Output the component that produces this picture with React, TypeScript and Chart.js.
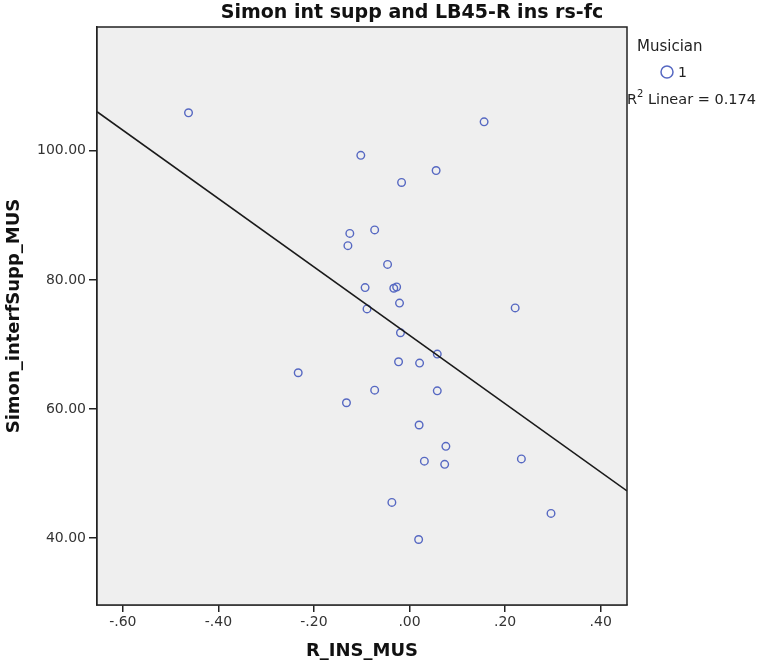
import React, { useEffect, useRef } from "react";
import { Chart, registerables } from "chart.js";

Chart.register(...registerables);

// Data
const xValues = [
  -0.4625, 0.156, -0.102, 0.0556, -0.0167, -0.125, -0.073, -0.129, -0.046, -0.093,
  -0.033, -0.027, -0.021, -0.089, 0.221, -0.019, 0.058, -0.023, 0.021, -0.233,
  -0.073, 0.058, -0.132, 0.02, 0.076, 0.031, 0.0735, 0.234, -0.037, 0.296, 0.019,
];
const yValues = [
  105.9, 104.5, 99.3, 96.95, 95.1, 87.2, 87.75, 85.3, 82.4, 78.8,
  78.7, 78.9, 76.4, 75.5, 75.65, 71.8, 68.5, 67.3, 67.1, 65.6,
  62.9, 62.8, 60.95, 57.5, 54.2, 51.9, 51.4, 52.25, 45.5, 43.8, 39.75,
];
const xTicks = [-0.6, -0.4, -0.2, 0.0, 0.2, 0.4];
const yTicks = [40, 60, 80, 100];
const fitIntercept = 71.4;
const fitSlope = -53.0;
const xRange = [-0.654, 0.455];
const yRange = [29.6, 119.2];

const titleText = "Simon int supp and LB45-R ins rs-fc";
const xTitle = "R_INS_MUS";
const yTitle = "Simon_interfSupp_MUS";
const legendTitle = "Musician";
const legendItem = "1";
const r2Text = "0.174";

const POINT_COLOR = "#5668c2";
const FONT = "'DejaVu Sans', sans-serif";

export default function App() {
  const ref = useRef<HTMLCanvasElement | null>(null);

  useEffect(() => {
    const canvas = ref.current;
    if (!canvas) return;

    const points = xValues.map((x, i) => ({ x, y: yValues[i] }));
    const line = [xRange[0], xRange[1]].map((x) => ({ x, y: fitIntercept + fitSlope * x }));

    const decor = {
      id: "decor",
      beforeDatasetsDraw(chart: any) {
        const { ctx, chartArea: a } = chart;
        ctx.save();
        ctx.fillStyle = "#efefef";
        ctx.fillRect(a.left, a.top, a.right - a.left, a.bottom - a.top);
        ctx.restore();
      },
      afterDraw(chart: any) {
        const { ctx, chartArea: a } = chart;
        ctx.save();
        ctx.strokeStyle = "#222";
        ctx.lineWidth = 1.5;
        ctx.strokeRect(a.left, a.top, a.right - a.left, a.bottom - a.top);

        ctx.fillStyle = "#111";
        ctx.textBaseline = "middle";
        ctx.textAlign = "center";
        ctx.font = `bold 19px ${FONT}`;
        ctx.fillText(titleText, 412, 13);

        ctx.font = `bold 18px ${FONT}`;
        ctx.fillText(xTitle, (a.left + a.right) / 2, 651);

        ctx.save();
        ctx.translate(14, (a.top + a.bottom) / 2);
        ctx.rotate(-Math.PI / 2);
        ctx.fillText(yTitle, 0, 0);
        ctx.restore();

        // legend
        ctx.textAlign = "left";
        ctx.fillStyle = "#222";
        ctx.font = `15px ${FONT}`;
        ctx.fillText(legendTitle, 637, 47);
        ctx.beginPath();
        ctx.strokeStyle = POINT_COLOR;
        ctx.lineWidth = 1.5;
        ctx.arc(667, 72, 6, 0, Math.PI * 2);
        ctx.stroke();
        ctx.fillStyle = "#222";
        ctx.font = `14px ${FONT}`;
        ctx.fillText(legendItem, 678, 73);

        ctx.font = `14.5px ${FONT}`;
        ctx.fillText("R", 627, 100);
        const rw = ctx.measureText("R").width;
        ctx.font = `10px ${FONT}`;
        ctx.fillText("2", 627 + rw, 94);
        const sw = ctx.measureText("2").width;
        ctx.font = `14.5px ${FONT}`;
        ctx.fillText(" Linear = " + r2Text, 627 + rw + sw, 100);
        ctx.restore();
      },
    };

    const chart = new Chart(canvas, {
      type: "scatter",
      data: {
        datasets: [
          {
            type: "line",
            data: line,
            borderColor: "#1a1a1a",
            borderWidth: 1.6,
            pointRadius: 0,
            fill: false,
            tension: 0,
          } as any,
          {
            data: points,
            showLine: false,
            pointRadius: 3.8,
            pointBorderWidth: 1.4,
            pointBorderColor: POINT_COLOR,
            pointBackgroundColor: "rgba(0,0,0,0)",
          },
        ],
      },
      options: {
        responsive: false,
        animation: false,
        layout: { padding: { left: 0, right: 132, top: 27, bottom: 0 } },
        plugins: {
          legend: { display: false },
          title: { display: false },
          tooltip: { enabled: false },
        },
        scales: {
          x: {
            type: "linear",
            min: xRange[0],
            max: xRange[1],
            afterBuildTicks: (s: any) => {
              s.ticks = xTicks.map((v) => ({ value: v }));
            },
            afterFit: (s: any) => {
              s.height = 58;
            },
            grid: {
              drawOnChartArea: false,
              drawTicks: true,
              tickLength: 7,
              color: "#222",
              lineWidth: 1.5,
            },
            border: { display: true, color: "#222", width: 1.5 },
            ticks: {
              padding: 2,
              color: "#333",
              font: { family: FONT, size: 14 },
              maxRotation: 0,
              callback: (v: any) => Number(v).toFixed(2).replace(/^(-?)0\./, "$1."),
            },
          },
          y: {
            type: "linear",
            min: yRange[0],
            max: yRange[1],
            afterBuildTicks: (s: any) => {
              s.ticks = yTicks.map((v) => ({ value: v }));
            },
            afterFit: (s: any) => {
              s.width = 97;
            },
            grid: {
              drawOnChartArea: false,
              drawTicks: true,
              tickLength: 8,
              color: "#222",
              lineWidth: 1.5,
            },
            border: { display: true, color: "#222", width: 1.5 },
            ticks: {
              padding: 3,
              color: "#333",
              font: { family: FONT, size: 14 },
              callback: (v: any) => Number(v).toFixed(2),
            },
          },
        },
      },
      plugins: [decor],
    } as any);

    return () => chart.destroy();
  }, []);

  return (
    <div style={{ position: "fixed", left: 0, top: 0, width: 759, height: 663, background: "#fff" }}>
      <canvas ref={ref} width={759} height={663} style={{ width: 759, height: 663, display: "block" }} />
    </div>
  );
}
